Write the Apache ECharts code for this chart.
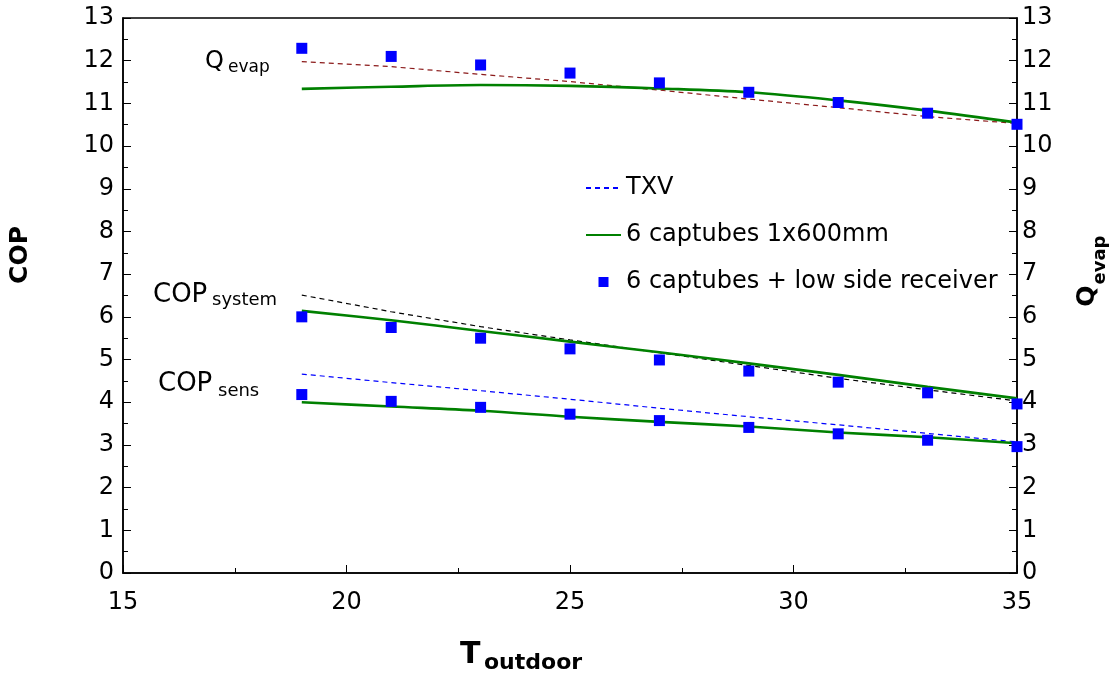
<!DOCTYPE html>
<html>
<head>
<meta charset="utf-8">
<script src="https://cdn.jsdelivr.net/npm/echarts@6/dist/echarts.min.js"></script>
<style>html,body{margin:0;padding:0;background:#fff}#c{width:1119px;height:676px}</style>
</head>
<body>
<div id="c"></div>
<script>
const tOutdoor = [19, 21, 23, 25, 27, 29, 31, 33, 35];
const qevapTXV = [11.98, 11.86, 11.68, 11.51, 11.31, 11.10, 10.90, 10.69, 10.53];
const qevapCap = [11.34, 11.39, 11.43, 11.41, 11.35, 11.26, 11.07, 10.83, 10.55];
const qevapRec = [12.29, 12.10, 11.90, 11.71, 11.48, 11.26, 11.02, 10.77, 10.51];
const copSysTXV = [6.51, 6.12, 5.77, 5.46, 5.16, 4.86, 4.56, 4.29, 4.03];
const copSysCap = [6.14, 5.92, 5.67, 5.42, 5.17, 4.91, 4.64, 4.36, 4.09];
const copSysRec = [6.00, 5.75, 5.50, 5.25, 4.99, 4.73, 4.47, 4.22, 3.96];
const copSensTXV = [4.66, 4.46, 4.27, 4.07, 3.86, 3.66, 3.47, 3.27, 3.07];
const copSensCap = [4.00, 3.90, 3.80, 3.66, 3.54, 3.43, 3.29, 3.18, 3.04];
const copSensRec = [4.18, 4.02, 3.88, 3.72, 3.57, 3.41, 3.26, 3.11, 2.96];

const NAME_TXV = 'TXV';
const NAME_CAP = '6 captubes 1x600mm';
const NAME_REC = '6 captubes + low side receiver';

const FONT = '"DejaVu Sans", "Liberation Sans", sans-serif';
const pairs = arr => tOutdoor.map((x, i) => [x, arr[i]]);

function dashed(name, data, color, yIdx) {
  return { name, type: 'line', yAxisIndex: yIdx, data: pairs(data), showSymbol: false, symbol: 'none',
    lineStyle: { color, width: 1.2, type: [5, 4] }, itemStyle: { color }, z: 2, silent: true };
}
function green(data, yIdx) {
  return { name: NAME_CAP, type: 'line', yAxisIndex: yIdx, data: pairs(data), showSymbol: false, symbol: 'none',
    smooth: 0.35, lineStyle: { color: '#008000', width: 2.6 }, itemStyle: { color: '#008000' }, z: 3, silent: true };
}
function squares(data, yIdx) {
  return { name: NAME_REC, type: 'scatter', yAxisIndex: yIdx, data: pairs(data), symbol: 'rect', symbolSize: 11,
    itemStyle: { color: '#0000ff', opacity: 1 }, z: 4, silent: true };
}

const yAxisCommon = {
  type: 'value', min: 0, max: 13, interval: 1,
  axisLine: { show: true, lineStyle: { color: '#000', width: 1.5 } },
  axisTick: { show: true, inside: true, length: 8, lineStyle: { color: '#000', width: 1 } },
  minorTick: { show: true, splitNumber: 2, length: 5, lineStyle: { color: '#000', width: 1 } },
  splitLine: { show: false },
  axisLabel: { color: '#000', fontSize: 24, fontFamily: FONT }
};

const option = {
  animation: false,
  backgroundColor: '#fff',
  grid: { left: 123, right: 102, top: 18, bottom: 103, show: true, borderColor: '#000', borderWidth: 1.5 },
  legend: {
    data: [
      { name: NAME_TXV },
      { name: NAME_CAP, lineStyle: { width: 2 } },
      { name: NAME_REC, icon: 'path://M0,0H10V10H0Z', itemStyle: { opacity: 1, color: '#0000ff' } }
    ],
    orient: 'vertical', left: 580, top: 171, itemWidth: 35, itemHeight: 10, itemGap: 23,
    selectedMode: false,
    itemStyle: { opacity: 0 },
    textStyle: { color: '#000', fontSize: 24, fontFamily: FONT }
  },
  xAxis: {
    type: 'value', min: 15, max: 35, interval: 5,
    axisLine: { show: true, onZero: false, lineStyle: { color: '#000', width: 1.5 } },
    axisTick: { show: true, inside: true, length: 8, lineStyle: { color: '#000', width: 1 } },
    minorTick: { show: true, splitNumber: 2, length: 5, lineStyle: { color: '#000', width: 1 } },
    splitLine: { show: false },
    axisLabel: { color: '#000', fontSize: 24, fontFamily: FONT, margin: 18 }
  },
  yAxis: [
    Object.assign({}, yAxisCommon, { position: 'left', axisLabel: Object.assign({}, yAxisCommon.axisLabel, { margin: 9 }) }),
    Object.assign({}, yAxisCommon, { position: 'right', axisLabel: Object.assign({}, yAxisCommon.axisLabel, { margin: 5 }) })
  ],
  graphic: [
    { type: 'text', x: 20, y: 255, rotation: Math.PI / 2, style: { text: 'COP', font: 'bold 25px ' + FONT, fill: '#000', align: 'center', verticalAlign: 'middle' } },
    { type: 'text', x: 1087, y: 296, rotation: Math.PI / 2, style: { text: 'Q', font: 'bold 25px ' + FONT, fill: '#000', align: 'center', verticalAlign: 'middle' } },
    { type: 'text', x: 1100, y: 260, rotation: Math.PI / 2, style: { text: 'evap', font: 'bold 18px ' + FONT, fill: '#000', align: 'center', verticalAlign: 'middle' } },
    { type: 'text', x: 460, y: 655, style: { text: 'T', font: 'bold 30px ' + FONT, fill: '#000', align: 'left', verticalAlign: 'middle' } },
    { type: 'text', x: 484, y: 663, style: { text: 'outdoor', font: 'bold 22px ' + FONT, fill: '#000', align: 'left', verticalAlign: 'middle' } },
    { type: 'text', x: 205, y: 62, style: { text: 'Q', font: '24px ' + FONT, fill: '#000', align: 'left', verticalAlign: 'middle' } },
    { type: 'text', x: 228, y: 68, style: { text: 'evap', font: '17px ' + FONT, fill: '#000', align: 'left', verticalAlign: 'middle' } },
    { type: 'text', x: 153, y: 295, style: { text: 'COP', font: '26px ' + FONT, fill: '#000', align: 'left', verticalAlign: 'middle' } },
    { type: 'text', x: 212, y: 300, style: { text: 'system', font: '18px ' + FONT, fill: '#000', align: 'left', verticalAlign: 'middle' } },
    { type: 'text', x: 158, y: 384, style: { text: 'COP', font: '26px ' + FONT, fill: '#000', align: 'left', verticalAlign: 'middle' } },
    { type: 'text', x: 218, y: 391, style: { text: 'sens', font: '18px ' + FONT, fill: '#000', align: 'left', verticalAlign: 'middle' } }
  ],
  series: [
    dashed(NAME_TXV, copSensTXV, '#0000ff', 0),
    dashed('TXV system', copSysTXV, '#000000', 0),
    dashed('TXV Qevap', qevapTXV, '#8b1a1a', 1),
    green(copSensCap, 0),
    green(copSysCap, 0),
    green(qevapCap, 1),
    squares(copSensRec, 0),
    squares(copSysRec, 0),
    squares(qevapRec, 1)
  ]
};

const chart = echarts.init(document.getElementById('c'), null, { renderer: 'canvas' });
chart.setOption(option);
</script>
</body>
</html>
